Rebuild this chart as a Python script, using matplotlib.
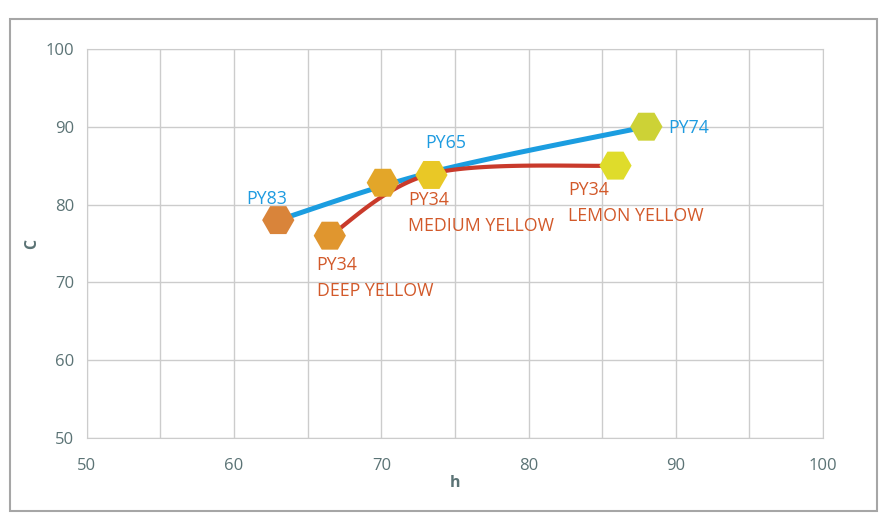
import numpy as np
import matplotlib.pyplot as plt
from matplotlib.patches import Rectangle

plt.rcParams['font.family'] = ['Open Sans', 'DejaVu Sans']

# ---------------------------
# Data
# ---------------------------
blue_h = [63.0, 73.5, 88.0]
blue_c = [78.0, 84.2, 90.0]

red_h = [66.5, 73.5, 86.0]
red_c = [76.0, 84.0, 85.0]

# pigment swatches (h, C, colour)
swatch_h = [63.0, 70.1, 66.5, 73.4, 85.9, 88.0]
swatch_c = [78.0, 82.8, 76.0, 83.8, 85.0, 90.0]
swatch_colors = ['#D9843A', '#E3A629', '#E0962F', '#E9C826', '#DFDC2B', '#CDD236']

blue_labels = ['PY83', 'PY65', 'PY74']
blue_label_pos = [(62.2, 80.7, 'center'), (74.4, 87.9, 'center'), (89.5, 89.8, 'left')]

red_labels = ['PY34\nDEEP YELLOW', 'PY34\nMEDIUM YELLOW', 'PY34\nLEMON YELLOW']
red_label_pos = [(65.6, 70.6), (71.8, 78.9), (82.7, 80.2)]

x_ticks = [50, 60, 70, 80, 90, 100]
y_ticks = [50, 60, 70, 80, 90, 100]


def smooth(xs, ys, n=40):
    # Excel-like smoothed line: cubic Bezier through points, tangents from neighbours
    P = np.column_stack([xs, ys]).astype(float)
    out = []
    for i in range(len(P) - 1):
        p0 = P[i - 1] if i > 0 else P[i]
        p1, p2 = P[i], P[i + 1]
        p3 = P[i + 2] if i + 2 < len(P) else P[i + 1]
        c1 = p1 + (p2 - p0) / 6
        c2 = p2 - (p3 - p1) / 6
        t = np.linspace(0, 1, n)[:, None]
        seg = ((1 - t) ** 3) * p1 + 3 * ((1 - t) ** 2) * t * c1 + 3 * (1 - t) * t ** 2 * c2 + t ** 3 * p2
        out.append(seg if i == 0 else seg[1:])
    seg = np.vstack(out)
    return seg[:, 0], seg[:, 1]


fig = plt.figure(figsize=(8.86, 5.31), dpi=100)
ax = fig.add_axes([0.098, 0.175, 0.831, 0.733])

fig.patches.append(Rectangle((10 / 886, 1 - 511 / 531), 867 / 886, 492 / 531,
                             transform=fig.transFigure, fill=False,
                             edgecolor='#A6A6A6', linewidth=1.5))

bx, by = smooth(blue_h, blue_c)
ax.plot(bx, by, color='#1B9DE0', linewidth=3.6, solid_capstyle='butt', zorder=2)
rx, ry = smooth(red_h, red_c)
ax.plot(rx, ry, color='#C93A2B', linewidth=3.0, solid_capstyle='butt', zorder=2)

ax.scatter(swatch_h, swatch_c, marker='H', s=540, c=swatch_colors, linewidths=0, zorder=3)

for lab, (x, y, ha) in zip(blue_labels, blue_label_pos):
    ax.text(x, y, lab, color='#1E9BE0', fontsize=12.8, ha=ha, va='center', zorder=4)
for lab, (x, y) in zip(red_labels, red_label_pos):
    ax.text(x, y, lab, color='#D2592A', fontsize=12.8, ha='left', va='center',
            linespacing=1.6, zorder=4)

ax.set_xlim(50, 100)
ax.set_ylim(50, 100)
ax.set_xticks(x_ticks)
ax.set_xticks(np.arange(55, 100, 10), minor=True)
ax.set_yticks(y_ticks)
ax.grid(True, which='both', color='#CCCCCC', linewidth=1.0)
ax.set_axisbelow(True)
for s in ax.spines.values():
    s.set_color('#CCCCCC')
ax.tick_params(which='both', length=0, labelsize=12, labelcolor='#5B7375', pad=9)
ax.tick_params(axis='x', pad=14)

ax.set_xlabel('h', fontsize=11.5, fontweight='bold', color='#5B7375', labelpad=1)
ax.set_ylabel('C', fontsize=11.5, fontweight='bold', color='#5B7375', labelpad=4)

fig.savefig('out.png', dpi=100)
